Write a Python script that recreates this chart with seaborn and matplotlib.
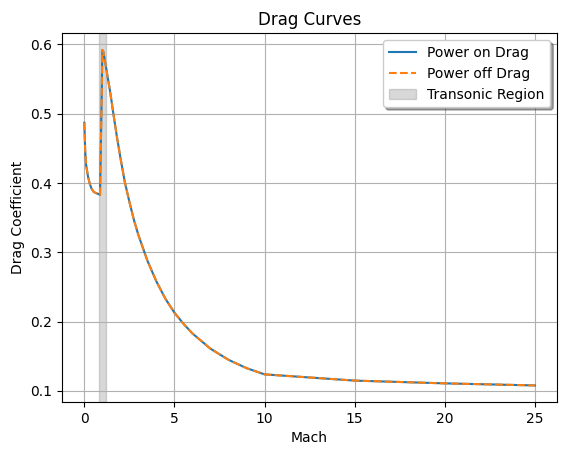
import matplotlib

matplotlib.use("Agg")
import matplotlib.pyplot as plt
import pandas as pd
import seaborn as sns

mach = [0.0, 0.05, 0.1, 0.2, 0.3, 0.4, 0.5, 0.6, 0.7, 0.8, 0.87, 0.9, 0.95,
        1.0, 1.05, 1.1, 1.2, 1.3, 1.4, 1.5, 1.6, 1.8, 2.0, 2.25, 2.5, 2.75,
        3.0, 3.5, 4.0, 4.5, 5.0, 5.5, 6.0, 7.0, 8.0, 9.0, 10.0, 15.0, 20.0, 25.0]
power_on = [0.487, 0.445, 0.426, 0.410, 0.399, 0.392, 0.388, 0.386, 0.385,
            0.384, 0.383, 0.430, 0.505, 0.592, 0.590, 0.583, 0.568, 0.552,
            0.537, 0.520, 0.502, 0.468, 0.437, 0.401, 0.373, 0.347, 0.325,
            0.288, 0.258, 0.233, 0.213, 0.197, 0.183, 0.161, 0.145, 0.133,
            0.124, 0.115, 0.111, 0.108]
power_off = list(power_on)

transonic = (0.8, 1.2)

df = pd.DataFrame({"Mach": mach, "on": power_on, "off": power_off})

fig, ax = plt.subplots(figsize=(5.67, 4.55), dpi=100)
fig.subplots_adjust(left=0.109, right=0.983, top=0.927, bottom=0.116)

sns.lineplot(data=df, x="Mach", y="on", ax=ax, label="Power on Drag",
             color="C0")
sns.lineplot(data=df, x="Mach", y="off", ax=ax, label="Power off Drag",
             color="C1", linestyle="--")
ax.axvspan(*transonic, color="gray", alpha=0.3, label="Transonic Region")

ax.set_title("Drag Curves")
ax.set_xlabel("Mach")
ax.set_ylabel("Drag Coefficient")
ax.grid(True)
ax.legend(loc="upper right", shadow=True)

plt.savefig("out.png")
plt.close()
